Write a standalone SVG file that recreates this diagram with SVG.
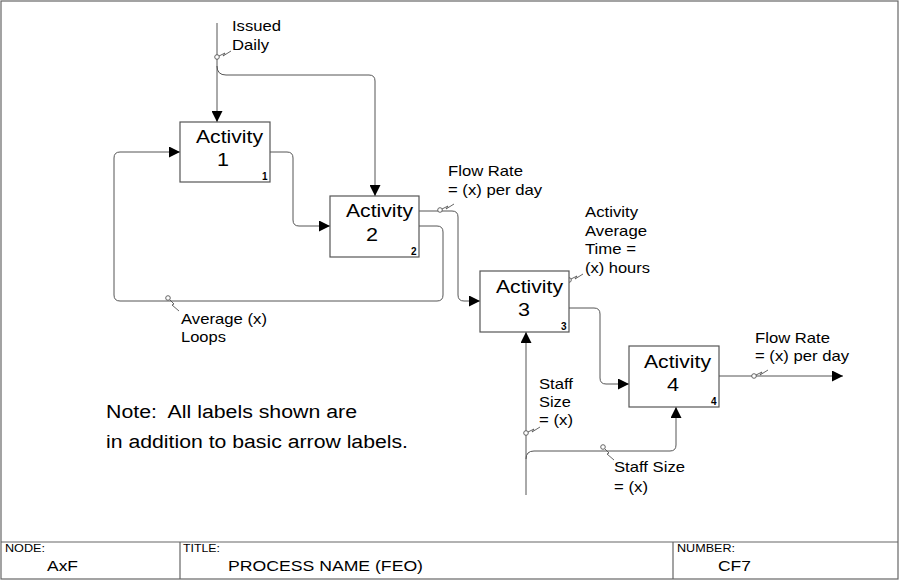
<svg xmlns="http://www.w3.org/2000/svg" width="900" height="581" viewBox="0 0 900 581">
<style>
.frame{fill:none;stroke:#666;stroke-width:1.2}
.box{fill:#fff;stroke:#555;stroke-width:1.2}
.con{fill:none;stroke:#555;stroke-width:1}
.sq{fill:none;stroke:#555;stroke-width:0.9}
.t{font-family:"Liberation Sans",Arial,sans-serif;fill:#000}
.act{font-size:18px}
.num{font-size:10px;font-weight:bold}
.lbl{font-size:14.5px}
.note{font-size:18px}
.hdr{font-size:11px}
.val{font-size:15px}
</style>
<defs>
<marker id="arr" viewBox="0 0 10 10" refX="10" refY="5" markerWidth="11" markerHeight="11" markerUnits="userSpaceOnUse" orient="auto">
<path d="M0,0 L10,5 L0,10 Z" fill="#000"/>
</marker>
<g id="sqUR"><circle cx="0" cy="0" r="2.3" fill="#fff" stroke="#555" stroke-width="0.9"/><path class="sq" d="M2,-1 L8,-4 L6,-1 L14,-6"/></g>
<g id="sqDR"><circle cx="0" cy="0" r="2.3" fill="#fff" stroke="#555" stroke-width="0.9"/><path class="sq" d="M2,2 L6,6 L4,7 L11,13"/></g>
</defs>
<rect width="900" height="581" fill="#fff"/>
<g id="frame">
<rect class="frame" x="1" y="1" width="897" height="578"/>
<line class="frame" x1="1" y1="542" x2="898" y2="542"/>
<line class="frame" x1="180" y1="542" x2="180" y2="579"/>
<line class="frame" x1="673" y1="542" x2="673" y2="579"/>
<text class="t hdr" x="5" y="552" textLength="40" lengthAdjust="spacingAndGlyphs">NODE:</text>
<text class="t val" x="47" y="571" textLength="31" lengthAdjust="spacingAndGlyphs">AxF</text>
<text class="t hdr" x="183" y="552" textLength="37" lengthAdjust="spacingAndGlyphs">TITLE:</text>
<text class="t val" x="228" y="571" textLength="195" lengthAdjust="spacingAndGlyphs">PROCESS NAME (FEO)</text>
<text class="t hdr" x="677" y="552" textLength="58" lengthAdjust="spacingAndGlyphs">NUMBER:</text>
<text class="t val" x="718" y="571" textLength="33" lengthAdjust="spacingAndGlyphs">CF7</text>
</g>
<g id="connectors">
<path class="con" d="M217,23 V122" marker-end="url(#arr)"/>
<path class="con" d="M217,66 Q217,75 226,75 H369 Q375,75 375,81 V196" marker-end="url(#arr)"/>
<path class="con" d="M270,152 H287 Q293,152 293,158 V220 Q293,226 299,226 H330" marker-end="url(#arr)"/>
<path class="con" d="M419,226 H437 Q443,226 443,232 V295 Q443,301 437,301 H120 Q114,301 114,295 V158 Q114,152 120,152 H180" marker-end="url(#arr)"/>
<path class="con" d="M419,211 H452 Q458,211 458,217 V295 Q458,301 464,301 H480" marker-end="url(#arr)"/>
<path class="con" d="M569,308 H594 Q600,308 600,314 V378 Q600,384 606,384 H629" marker-end="url(#arr)"/>
<path class="con" d="M526,495 V332" marker-end="url(#arr)"/>
<path class="con" d="M526,459 Q526,451 534,451 H670 Q676,451 676,445 V407" marker-end="url(#arr)"/>
<path class="con" d="M719,376 H843" marker-end="url(#arr)"/>
<use href="#sqUR" x="217" y="57"/>
<use href="#sqUR" x="440" y="210"/>
<use href="#sqUR" x="569" y="280"/>
<use href="#sqDR" x="168" y="298"/>
<use href="#sqUR" x="526" y="433"/>
<use href="#sqDR" x="603" y="447"/>
<use href="#sqUR" x="754" y="376"/>
<text class="t lbl" x="232" y="31" textLength="49" lengthAdjust="spacingAndGlyphs">Issued</text>
<text class="t lbl" x="232" y="50" textLength="37" lengthAdjust="spacingAndGlyphs">Daily</text>
<text class="t lbl" x="448" y="176" textLength="75" lengthAdjust="spacingAndGlyphs">Flow Rate</text>
<text class="t lbl" x="448" y="195" textLength="94" lengthAdjust="spacingAndGlyphs">= (x) per day</text>
<text class="t lbl" x="585" y="217" textLength="53" lengthAdjust="spacingAndGlyphs">Activity</text>
<text class="t lbl" x="585" y="236" textLength="62" lengthAdjust="spacingAndGlyphs">Average</text>
<text class="t lbl" x="585" y="254" textLength="51" lengthAdjust="spacingAndGlyphs">Time =</text>
<text class="t lbl" x="585" y="273" textLength="65" lengthAdjust="spacingAndGlyphs">(x) hours</text>
<text class="t lbl" x="181" y="324" textLength="86" lengthAdjust="spacingAndGlyphs">Average (x)</text>
<text class="t lbl" x="181" y="342" textLength="45" lengthAdjust="spacingAndGlyphs">Loops</text>
<text class="t lbl" x="539" y="389" textLength="34" lengthAdjust="spacingAndGlyphs">Staff</text>
<text class="t lbl" x="539" y="407" textLength="32" lengthAdjust="spacingAndGlyphs">Size</text>
<text class="t lbl" x="539" y="425" textLength="34" lengthAdjust="spacingAndGlyphs">= (x)</text>
<text class="t lbl" x="614" y="472" textLength="71" lengthAdjust="spacingAndGlyphs">Staff Size</text>
<text class="t lbl" x="614" y="492" textLength="34" lengthAdjust="spacingAndGlyphs">= (x)</text>
<text class="t lbl" x="755" y="343" textLength="75" lengthAdjust="spacingAndGlyphs">Flow Rate</text>
<text class="t lbl" x="755" y="361" textLength="94" lengthAdjust="spacingAndGlyphs">= (x) per day</text>
</g>
<g id="a1">
<rect class="box" x="180" y="122" width="90" height="60"/>
<text class="t act" x="196" y="143" textLength="67" lengthAdjust="spacingAndGlyphs">Activity</text>
<text class="t act" x="217" y="166" textLength="12" lengthAdjust="spacingAndGlyphs">1</text>
<text class="t num" x="262" y="180">1</text>
</g>
<g id="a2">
<rect class="box" x="330" y="196" width="89" height="61"/>
<text class="t act" x="346" y="217" textLength="67" lengthAdjust="spacingAndGlyphs">Activity</text>
<text class="t act" x="366" y="241" textLength="12" lengthAdjust="spacingAndGlyphs">2</text>
<text class="t num" x="411" y="255">2</text>
</g>
<g id="a3">
<rect class="box" x="480" y="271" width="89" height="61"/>
<text class="t act" x="496" y="293" textLength="67" lengthAdjust="spacingAndGlyphs">Activity</text>
<text class="t act" x="518" y="316" textLength="12" lengthAdjust="spacingAndGlyphs">3</text>
<text class="t num" x="561" y="330">3</text>
</g>
<g id="a4">
<rect class="box" x="629" y="346" width="90" height="61"/>
<text class="t act" x="644" y="368" textLength="67" lengthAdjust="spacingAndGlyphs">Activity</text>
<text class="t act" x="667" y="391" textLength="12" lengthAdjust="spacingAndGlyphs">4</text>
<text class="t num" x="711" y="405">4</text>
</g>
<g id="note">
<text class="t note" x="106" y="418" textLength="251" lengthAdjust="spacingAndGlyphs">Note:&#160; All labels shown are</text>
<text class="t note" x="106" y="448" textLength="302" lengthAdjust="spacingAndGlyphs">in addition to basic arrow labels.</text>
</g>
</svg>
